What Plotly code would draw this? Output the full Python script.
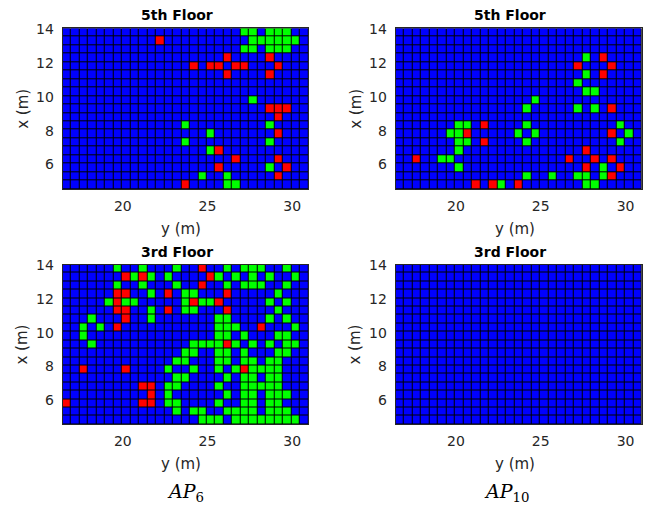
import plotly.graph_objects as go

# ---------------- data ----------------
# cell centres along the horizontal axis "y (m)" and vertical axis "x (m)"
Y_M_CENTERS = [16.7, 17.2, 17.7, 18.2, 18.7, 19.2, 19.7, 20.2, 20.7, 21.2,
               21.7, 22.2, 22.7, 23.2, 23.7, 24.2, 24.7, 25.2, 25.7, 26.2,
               26.7, 27.2, 27.7, 28.2, 28.7, 29.2, 29.7, 30.2, 30.7]
X_M_CENTERS = [13.8, 13.3, 12.8, 12.3, 11.8, 11.3, 10.8, 10.3, 9.8, 9.3,
               8.8, 8.3, 7.8, 7.3, 6.8, 6.3, 5.8, 5.3, 4.8]

X_TICKS = [20, 25, 30]
Y_TICKS = [6, 8, 10, 12, 14]

# '.' = blue, 'G' = green, 'R' = red ; rows listed from top (x=13.8) to bottom
AP6_5TH = [
    "..... ..... ..... ..... .GG.G GG..",
    "..... ..... .R... ..... ..GGG GGG.",
    "..... ..... ..... ..... .GG.G GG..",
    "..... ..... ..... ....R ....R ....",
    "..... ..... ..... R.RR. RR... R...",
    "..... ..... ..... ....R ....R ....",
    "..... ..... ..... ..... ..... ....",
    "..... ..... ..... ..... ..... ....",
    "..... ..... ..... ..... ..G.. ....",
    "..... ..... ..... ..... ....R RR..",
    "..... ..... ..... ..... ..... R...",
    "..... ..... ....G ..... ....G ....",
    "..... ..... ..... ..G.. ..... R...",
    "..... ..... ....G ..... ....G ....",
    "..... ..... ..... ..GR. ..... ....",
    "..... ..... ..... ..... R.... R...",
    "..... ..... ..... ...R. ....G .R..",
    "..... ..... ..... .G..G ..... R...",
    "..... ..... ....R ....G G.... ....",
]

AP10_5TH = [
    "..... ..... ..... ..... ..... ....",
    "..... ..... ..... ..... ..... ....",
    "..... ..... ..... ..... ..... ....",
    "..... ..... ..... ..... ..G.R ....",
    "..... ..... ..... ..... .R... R...",
    "..... ..... ..... ..... ..G.R ....",
    "..... ..... ..... ..... .G... ....",
    "..... ..... ..... ..... ..GG. ....",
    "..... ..... ..... .G... ..... ....",
    "..... ..... ..... G.... .G.G. R...",
    "..... ..... ..... ..... ..... ....",
    "..... ..GG. R.... G.... ..... .G..",
    "..... .GGR. ....G .G... ..... R.G.",
    "..... ..GG. R.... G.... ..... .G..",
    "..... ..G.. ..... ..... ..R.. ....",
    "..R.. GG... ..... ..... R..R. R...",
    "..... ..G.. ..... ..... ..R.G .R..",
    "..... ..... ..... G..G. .GG.G R...",
    "..... ....R .RG.R ..... ..GG. ....",
]

AP6_3RD = [
    "..... .G..G ...G. .R..G .GGG. .G..",
    "..... ..RGR G.G.. ..RG. G.G.G ..G.",
    "..... .G..G ...G. .R..G .GGG. .G..",
    "..... .RR.. G.R.G G...R ..... G...",
    "..... GRGG. ....G RGGR. ....G .G..",
    "..... .RR.. G.R.G G...R ..... G...",
    "...G. ..R.. G.... ...GG ....G .G..",
    "..G.G .R... ..... ...GG G..R. ..G.",
    "..G.. ..... ..... ...GG .G... GG..",
    "...G. ..... ..... GGGGR G.G.G .GG.",
    "..... ..... ....G G..GG .G... GG..",
    "..... ..... ...GG ...GG .GG.G G...",
    "..R.. ..R.. ..G.. G..G. GRGGG G...",
    "..... ..... ...GG ....G .GG.G G...",
    "..... ....R R.GG. ...G. .GGGG G...",
    "..... ..... R.G.. ....G .GG.G GG..",
    "R.... ....R R.GG. ...G. .GG.G G...",
    "..... ..... ...G. GG..G GGG.G GG..",
    "..... ..... ..... .GGG. GGGGG GGG.",
]

AP10_3RD = [
    "..... ..... ..... ..... ..... ....",
] * 19

PANELS = [
    ("5th Floor", AP6_5TH),
    ("5th Floor", AP10_5TH),
    ("3rd Floor", AP6_3RD),
    ("3rd Floor", AP10_3RD),
]
COL_LABELS = ["<i>AP</i><sub>6</sub>", "<i>AP</i><sub>10</sub>"]

# ---------------- styling ----------------
W, H = 648, 512
CODE = {".": 0, "G": 1, "R": 2}
BLUE, GREEN, RED = "#0000FF", "#00FF00", "#FF0000"
CSCALE = [[0, BLUE], [1/3, BLUE], [1/3, GREEN], [2/3, GREEN], [2/3, RED], [1, RED]]

XDOM = [[62.7 / W, 308.3 / W], [395.7 / W, 641.7 / W]]
YDOM = [[1 - 189.0 / H, 1 - 28.3 / H], [1 - 424.3 / H, 1 - 264.5 / H]]
LABEL_X = [185.0 / W, 506.0 / W]

FONT = "DejaVu Sans, Arial, sans-serif"
TXT = "#262626"

fig = go.Figure()
layout = dict(
    width=W, height=H, autosize=False, margin=dict(l=0, r=0, t=0, b=0, pad=0),
    paper_bgcolor="white", plot_bgcolor="black", showlegend=False,
    font=dict(family=FONT, size=14, color=TXT),
)
annotations = []

for i, (title, rows) in enumerate(PANELS):
    r, c = divmod(i, 2)
    z = [[CODE[ch] for ch in row.replace(" ", "")] for row in rows]
    n = i + 1
    xa = "x" if n == 1 else f"x{n}"
    ya = "y" if n == 1 else f"y{n}"
    fig.add_trace(go.Heatmap(
        x=Y_M_CENTERS, y=X_M_CENTERS, z=z, zmin=0, zmax=2,
        colorscale=CSCALE, showscale=False, xgap=1, ygap=1,
        xaxis=xa, yaxis=ya, hoverinfo="skip",
    ))
    xkey = "xaxis" if n == 1 else f"xaxis{n}"
    ykey = "yaxis" if n == 1 else f"yaxis{n}"
    layout[xkey] = dict(
        domain=XDOM[c], anchor=ya, range=[16.45, 30.95], automargin=False,
        tickvals=X_TICKS, ticks="", showgrid=False, zeroline=False,
        showline=True, linecolor="#262626", linewidth=1, mirror=True,
        tickfont=dict(size=14, color=TXT), ticklabelstandoff=4,
    )
    layout[ykey] = dict(
        domain=YDOM[r], anchor=xa, range=[4.55, 14.05], automargin=False,
        tickvals=Y_TICKS, ticks="", showgrid=False, zeroline=False,
        showline=True, linecolor="#262626", linewidth=1, mirror=True,
        tickfont=dict(size=14, color=TXT), ticklabelstandoff=5,
    )
    xmid = (XDOM[c][0] + XDOM[c][1]) / 2
    ymid = (YDOM[r][0] + YDOM[r][1]) / 2
    annotations.append(dict(
        text=f"<b>{title}</b>", x=xmid - 9 / W, y=YDOM[r][1] + 13 / H,
        xref="paper", yref="paper", showarrow=False, xanchor="center",
        yanchor="middle", font=dict(size=14, color="black", family=FONT)))
    annotations.append(dict(
        text="y (m)", x=xmid - 4 / W, y=YDOM[r][0] - 40 / H,
        xref="paper", yref="paper", showarrow=False, xanchor="center",
        yanchor="middle", font=dict(size=15, color=TXT, family=FONT)))
    annotations.append(dict(
        text="x (m)", x=XDOM[c][0] - 40.5 / W, y=ymid, textangle=-90,
        xref="paper", yref="paper", showarrow=False, xanchor="center",
        yanchor="middle", font=dict(size=15, color=TXT, family=FONT)))

for c, lab in enumerate(COL_LABELS):
    annotations.append(dict(
        text=lab, x=LABEL_X[c], y=1 - 492 / H, xref="paper", yref="paper",
        showarrow=False, xanchor="center", yanchor="middle",
        font=dict(size=19, color="black", family="DejaVu Serif, Liberation Serif, serif")))

layout["annotations"] = annotations
fig.update_layout(**layout)
fig.write_html(
    "out.html",
    config={"displayModeBar": False, "staticPlot": True},
    post_script=(
        "document.documentElement.style.overflow='hidden';"
        "document.body.style.margin='0';document.body.style.overflow='hidden';"
        "var g=document.querySelector('.plotly-graph-div');"
        "g.style.position='fixed';g.style.left='0px';g.style.top='0px';"
    ),
)
